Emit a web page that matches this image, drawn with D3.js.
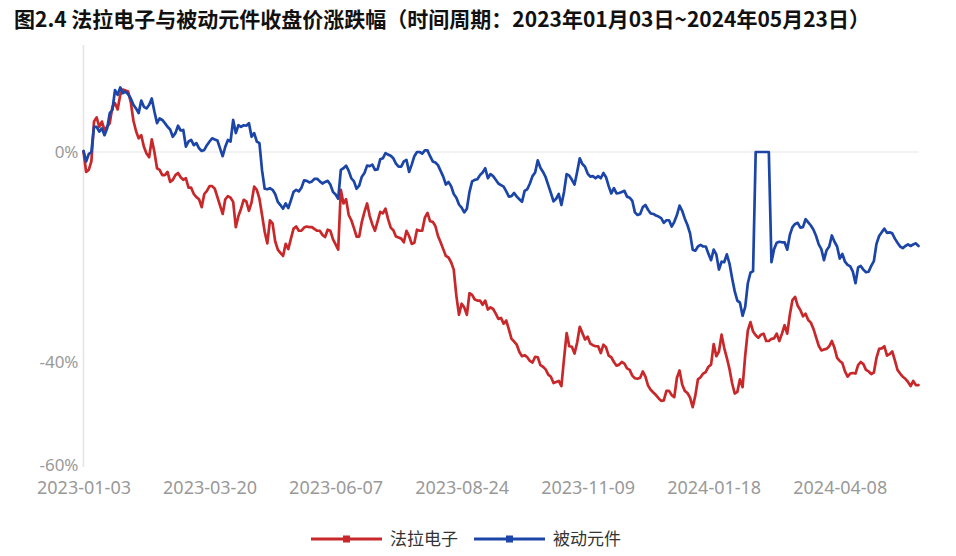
<!DOCTYPE html>
<html><head><meta charset="utf-8">
<script src="https://cdn.jsdelivr.net/npm/d3@7"></script>
<style>
html,body{margin:0;padding:0;background:#fff;}
svg{display:block;font-family:"Noto Sans CJK SC","Noto Sans",sans-serif;}
</style></head>
<body><svg id="chart" width="956" height="556"></svg>
<script>
const title = "图2.4 法拉电子与被动元件收盘价涨跌幅（时间周期：2023年01月03日~2024年05月23日）";
const seriesNames = ["法拉电子", "被动元件"];
const seriesColors = ["#c8282a", "#1c45a8"];
const xTickLabels = ["2023-01-03","2023-03-20","2023-06-07","2023-08-24","2023-11-09","2024-01-18","2024-04-08"];
const xTickIndex = [0, 48, 96, 144, 192, 240, 288];
const yTickValues = [0, -40, -60];
const yTickLabels = ["0%", "-40%", "-60%"];

const faraValues = [
0.1,-3.8,-3.4,-1.8,5.8,6.6,4.8,5.8,4.2,4.8,
5.5,8.6,9.3,8.1,10.9,11.9,11.7,11.5,9.5,6.0,
4.0,2.6,3.2,1.0,-0.3,-1.0,2.4,0.0,-3.1,-3.4,
-4.4,-4.4,-3.8,-5.7,-5.3,-4.4,-4.0,-4.8,-5.3,-5.0,
-6.8,-6.8,-8.0,-8.6,-9.0,-10.5,-8.0,-7.4,-6.5,-6.5,
-7.0,-8.6,-10.2,-11.8,-9.0,-8.4,-8.7,-9.5,-14.3,-12.2,
-10.8,-9.1,-9.4,-11.2,-9.6,-6.6,-7.2,-8.9,-12.0,-15.2,
-17.4,-13.0,-13.6,-17.0,-18.6,-19.2,-19.8,-17.5,-18.5,-16.5,
-14.6,-14.2,-15.0,-15.0,-14.4,-14.2,-14.3,-14.3,-14.7,-15.0,
-15.0,-15.8,-16.2,-14.8,-15.0,-16.6,-17.6,-18.6,-7.2,-9.8,
-9.0,-12.0,-13.0,-14.5,-16.1,-16.1,-13.3,-11.4,-9.8,-12.2,
-13.8,-15.0,-13.2,-11.4,-11.7,-10.8,-12.8,-14.4,-14.9,-16.1,
-16.3,-16.5,-17.2,-15.0,-16.0,-17.5,-17.3,-14.8,-15.0,-15.0,
-12.5,-11.6,-13.2,-13.3,-14.1,-16.0,-17.2,-18.5,-19.8,-20.1,
-21.0,-22.4,-27.4,-31.0,-28.9,-29.6,-31.0,-26.9,-27.2,-28.1,
-28.3,-28.3,-29.1,-28.3,-30.0,-29.6,-29.9,-30.8,-31.8,-31.6,
-32.7,-32.1,-33.8,-35.6,-36.1,-36.7,-38.1,-38.9,-38.7,-39.1,
-39.8,-40.1,-39.0,-39.1,-40.6,-40.9,-41.4,-42.4,-42.8,-44.0,
-43.8,-43.6,-44.6,-39.4,-34.5,-37.0,-37.1,-38.4,-36.3,-33.3,
-34.5,-35.7,-35.2,-36.5,-36.8,-37.0,-37.0,-38.3,-36.7,-37.2,
-38.8,-39.1,-40.0,-40.7,-40.5,-40.0,-40.3,-41.2,-41.5,-42.6,
-43.1,-43.2,-43.0,-41.8,-42.8,-44.5,-45.3,-45.8,-46.3,-46.9,
-47.4,-47.3,-45.5,-45.5,-46.3,-46.7,-43.0,-41.6,-44.3,-45.5,
-45.9,-46.8,-48.6,-46.4,-43.3,-42.9,-42.2,-41.9,-40.9,-40.5,
-36.6,-38.9,-38.0,-34.8,-37.3,-39.2,-41.3,-44.0,-46.0,-45.7,
-43.3,-44.8,-38.8,-34.0,-32.4,-34.2,-34.9,-35.4,-34.8,-34.6,
-36.0,-36.0,-35.6,-35.5,-34.6,-36.0,-34.6,-33.0,-34.6,-31.0,
-28.2,-27.6,-29.3,-30.1,-31.3,-30.8,-32.0,-32.5,-33.7,-35.3,
-36.9,-37.8,-37.6,-37.5,-37.0,-36.0,-37.3,-39.2,-39.8,-40.2,
-41.8,-42.8,-42.2,-42.1,-42.2,-40.6,-40.0,-40.4,-41.5,-41.8,
-42.3,-42.0,-39.2,-37.5,-37.4,-37.0,-38.8,-38.5,-38.0,-39.7,
-41.5,-42.2,-42.8,-43.2,-43.8,-44.6,-43.6,-44.4,-44.4
];

const passiveValues = [
0.2,-1.8,-0.4,0.0,4.8,4.8,3.9,4.5,3.2,4.5,
7.4,8.0,11.8,10.9,12.3,11.2,11.5,11.0,10.2,9.0,
8.3,7.4,9.8,8.6,8.3,9.0,10.2,7.7,5.5,6.4,
6.1,5.5,4.8,4.3,2.9,3.6,5.0,4.1,4.2,1.0,
2.0,2.3,1.3,1.7,0.7,0.2,0.4,1.3,2.0,2.6,
2.4,2.2,0.7,-0.8,1.0,2.3,2.0,6.1,3.6,5.1,
4.8,5.1,5.0,5.5,2.9,3.6,2.0,1.7,-3.5,-7.0,
-7.1,-6.9,-7.2,-8.0,-9.5,-10.1,-10.8,-9.8,-10.7,-9.2,
-7.6,-7.2,-7.5,-6.8,-5.4,-5.5,-5.8,-5.6,-5.1,-5.1,
-5.6,-6.0,-5.7,-5.5,-6.2,-7.6,-8.1,-8.9,-3.4,-3.1,
-2.6,-3.6,-5.0,-5.6,-7.0,-6.4,-4.7,-4.0,-2.6,-2.7,
-2.4,-3.4,-3.3,-1.4,-1.2,-0.2,-0.5,-0.7,-1.2,-2.2,
-2.8,-2.8,-1.8,-1.5,-3.8,-2.4,-0.8,0.0,0.0,-0.3,
0.3,0.3,-0.8,-1.8,-2.0,-2.5,-3.6,-4.7,-6.2,-5.7,
-6.5,-8.0,-8.7,-10.0,-10.6,-11.5,-10.8,-7.6,-5.6,-5.3,
-5.2,-4.4,-3.9,-3.1,-5.0,-4.2,-4.6,-5.3,-6.0,-6.3,
-6.6,-7.5,-8.5,-8.4,-7.8,-8.5,-9.0,-9.5,-7.4,-7.1,
-6.0,-4.6,-3.9,-1.6,-3.0,-3.8,-4.8,-6.3,-7.8,-9.4,
-8.9,-8.0,-10.1,-7.6,-4.2,-4.5,-5.3,-6.2,-3.8,-1.2,
-2.3,-2.8,-4.1,-4.7,-4.6,-5.0,-4.6,-5.0,-4.0,-4.8,
-6.5,-7.9,-6.9,-7.9,-7.8,-7.6,-7.4,-8.5,-8.7,-9.3,
-11.5,-12.0,-11.8,-10.5,-10.1,-11.0,-11.7,-11.8,-12.1,-12.3,
-12.6,-13.5,-13.0,-13.0,-14.2,-13.3,-12.0,-10.2,-11.2,-12.7,
-13.9,-15.5,-18.6,-18.8,-18.0,-17.7,-18.0,-18.0,-19.4,-20.6,
-18.6,-19.5,-22.4,-20.9,-21.0,-19.5,-21.2,-24.0,-26.5,-28.3,
-28.7,-31.2,-29.5,-25.0,-23.0,-22.7,0.0,0.0,0.0,0.0,
0.0,0.0,-21.0,-18.5,-17.3,-17.1,-17.2,-17.2,-18.6,-15.8,
-14.3,-13.7,-13.5,-14.4,-14.3,-12.8,-13.4,-14.0,-14.8,-16.0,
-17.6,-18.5,-20.6,-18.7,-18.0,-15.9,-17.1,-18.0,-20.3,-19.4,
-20.9,-21.5,-21.8,-22.8,-25.0,-22.0,-21.7,-22.4,-22.9,-22.8,
-21.7,-20.8,-17.5,-16.0,-15.3,-14.6,-15.4,-15.3,-15.5,-16.5,
-17.3,-18.0,-18.3,-17.9,-17.6,-17.9,-17.6,-17.4,-17.9
];

const svg = d3.select("#chart");
const plot = {left: 83.5, right: 918.5, top: 47, bottom: 467};

const n = Math.max(faraValues.length, passiveValues.length);
const x = d3.scaleLinear().domain([0, n - 1]).range([plot.left, plot.right]);
const y = d3.scaleLinear().domain([-60, 20]).range([plot.bottom, plot.top]);

// title
svg.append("text").attr("x", 14).attr("y", 27)
  .attr("font-size", 21).attr("font-weight", 700).attr("fill", "#111")
  .text(title);

// zero grid line
svg.append("line")
  .attr("x1", plot.left).attr("x2", plot.right)
  .attr("y1", y(0)).attr("y2", y(0))
  .attr("stroke", "#e6e6e6").attr("stroke-width", 1.2);

// y axis line
svg.append("line")
  .attr("x1", plot.left).attr("x2", plot.left)
  .attr("y1", plot.top - 2).attr("y2", plot.bottom)
  .attr("stroke", "#e4e4e4").attr("stroke-width", 1.5);

// y axis labels
const yAxis = d3.axisLeft(y).tickValues(yTickValues)
  .tickFormat((d, i) => yTickLabels[i]).tickSize(0).tickPadding(5);
const gy = svg.append("g").attr("transform", `translate(${plot.left},0)`).call(yAxis);
gy.select(".domain").remove();
gy.selectAll("text").attr("font-size", 17).attr("fill", "#9a9a9a")
  .attr("font-family", '"Noto Sans","Noto Sans CJK SC",sans-serif');
gy.selectAll(".tick").filter(d => d === -60).select("text").attr("dy", "0.2em");

// x axis labels
const xAxis = d3.axisBottom(x).tickValues(xTickIndex)
  .tickFormat((d, i) => xTickLabels[i]).tickSize(0).tickPadding(14);
const gx = svg.append("g").attr("transform", `translate(0,${plot.bottom})`).call(xAxis);
gx.select(".domain").remove();
gx.selectAll("text").attr("font-size", 18).attr("fill", "#999")
  .attr("font-family", '"Noto Sans","Noto Sans CJK SC",sans-serif');

// lines
const line = d3.line().x((d, i) => x(i)).y(d => y(d));
[faraValues, passiveValues].forEach((vals, k) => {
  svg.append("path").datum(vals)
    .attr("d", line).attr("fill", "none")
    .attr("stroke", seriesColors[k]).attr("stroke-width", 2.7)
    .attr("stroke-linejoin", "round").attr("stroke-linecap", "round");
});

// legend
const legendY = 539;
const legendItems = [{x: 311}, {x: 474}];
legendItems.forEach((it, k) => {
  const g = svg.append("g").attr("transform", `translate(${it.x},${legendY})`);
  g.append("line").attr("x1", 0).attr("x2", 71).attr("y1", 0).attr("y2", 0)
    .attr("stroke", seriesColors[k]).attr("stroke-width", 3);
  g.append("rect").attr("x", 35.5 - 3.5).attr("y", -3.5).attr("width", 7).attr("height", 7)
    .attr("fill", seriesColors[k]);
  g.append("text").attr("x", 79).attr("y", 0).attr("dy", "0.35em")
    .attr("font-size", 17).attr("fill", "#333").text(seriesNames[k]);
});
</script>
</body></html>
